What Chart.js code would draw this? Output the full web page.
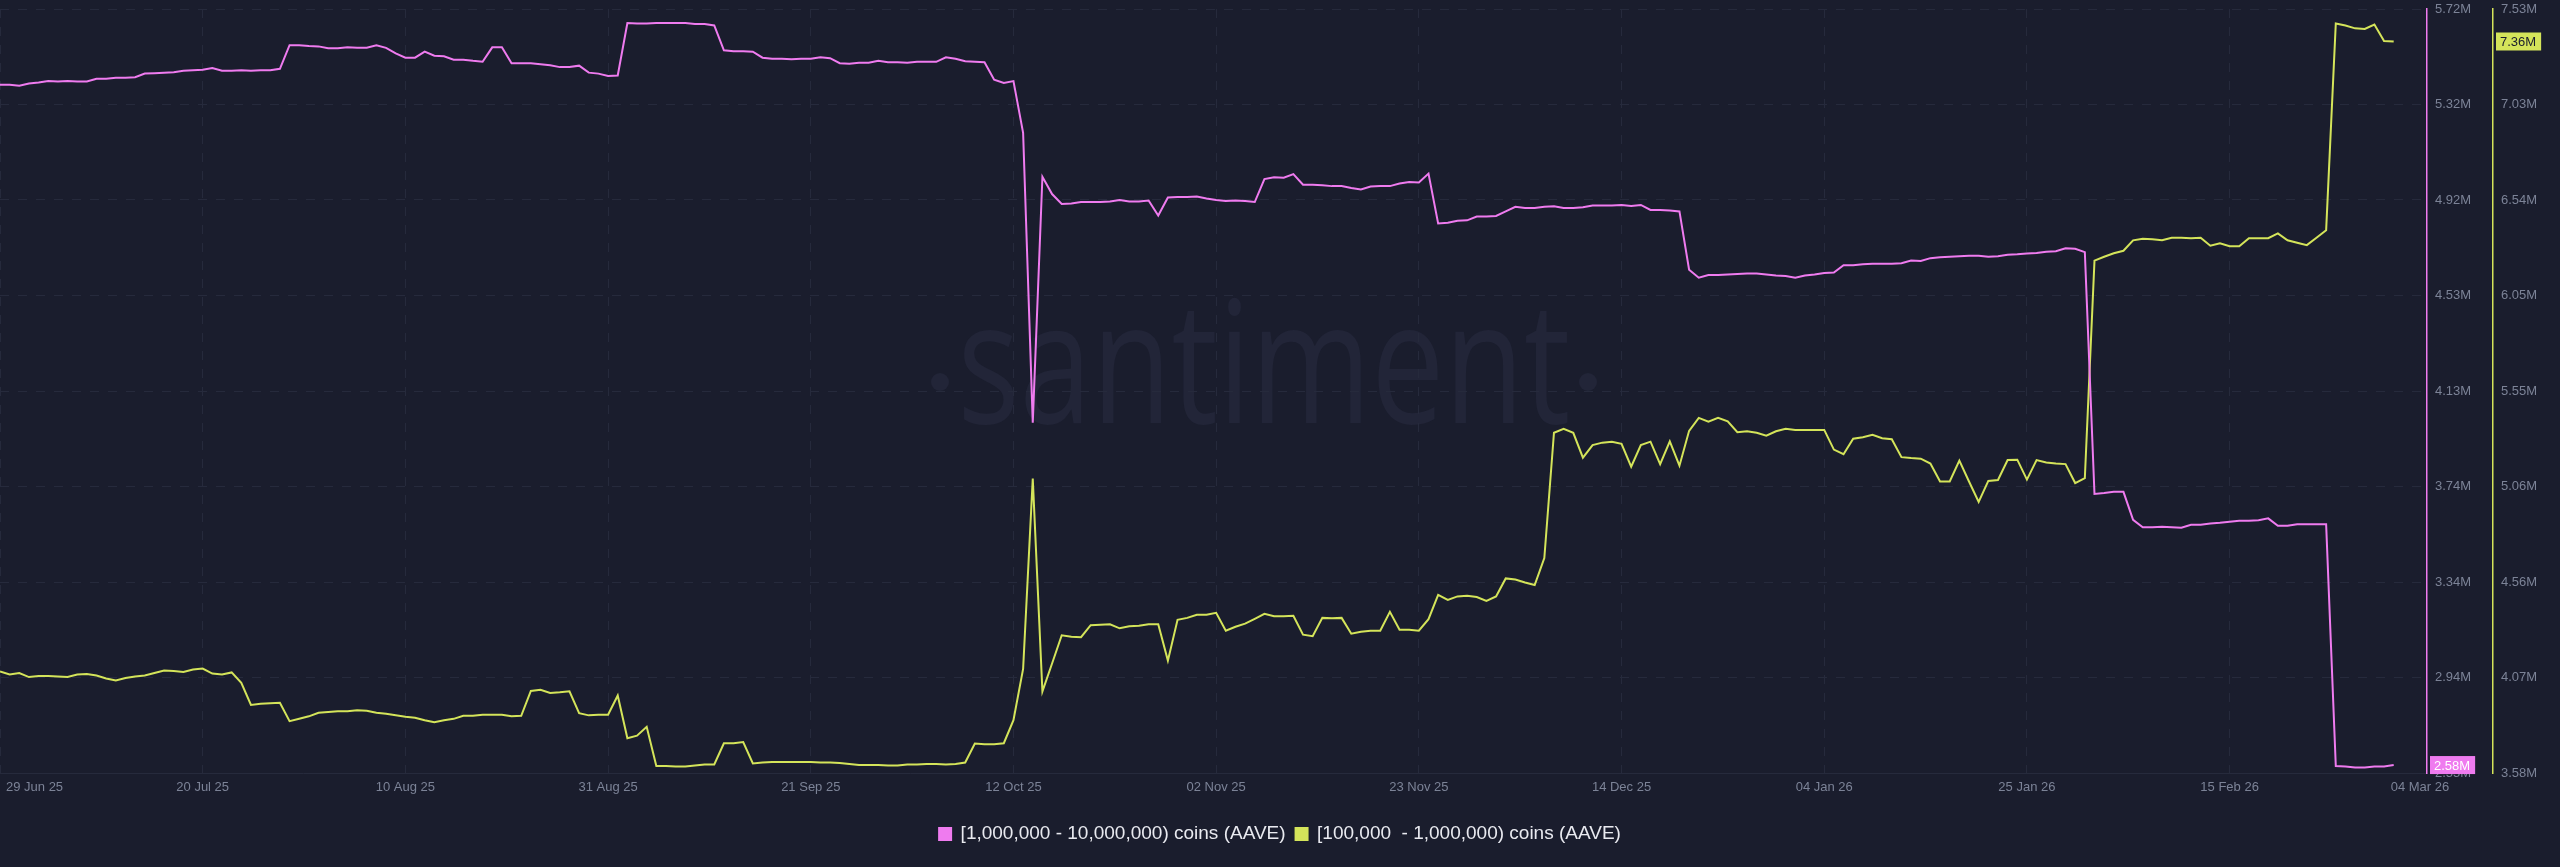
<!DOCTYPE html>
<html>
<head>
<meta charset="utf-8">
<title>AAVE supply distribution</title>
<script src="https://cdn.jsdelivr.net/npm/chart.js@4.4.1/dist/chart.umd.min.js"></script>
<style>
    html, body { margin: 0; padding: 0; background: #1a1d2d; }
    #wrap { width: 2560px; height: 867px; }
</style>
</head>
<body>
<div id="wrap"><canvas id="holdersChart"></canvas></div>
<script>
// x is days since 29 Jun 25, one point per day up to 04 Mar 26
const xTickDays = [0, 21, 42, 63, 84, 105, 126, 147, 168, 189, 210, 231, 248];
const xTickLabels = ["29 Jun 25", "20 Jul 25", "10 Aug 25", "31 Aug 25", "21 Sep 25", "12 Oct 25",
    "02 Nov 25", "23 Nov 25", "14 Dec 25", "04 Jan 26", "25 Jan 26", "15 Feb 26", "04 Mar 26"];

// right hand axes (millions)
const bigTickLabels = ["2.55M", "2.94M", "3.34M", "3.74M", "4.13M", "4.53M", "4.92M", "5.32M", "5.72M"];
const midTickLabels = ["3.58M", "4.07M", "4.56M", "5.06M", "5.55M", "6.05M", "6.54M", "7.03M", "7.53M"];
const bigRange = [2.551, 5.7222];
const midRange = [3.58, 7.53];

// [1,000,000 - 10,000,000) coins, millions of AAVE
const bigHolders = [
    5.408, 5.408, 5.404, 5.413, 5.417, 5.423, 5.421, 5.423, 5.421, 5.421,
    5.433, 5.433, 5.437, 5.437, 5.439, 5.454, 5.456, 5.458, 5.460, 5.466,
    5.468, 5.470, 5.477, 5.466, 5.466, 5.468, 5.466, 5.468, 5.468, 5.474,
    5.572, 5.572, 5.569, 5.567, 5.559, 5.559, 5.563, 5.561, 5.561, 5.572,
    5.561, 5.538, 5.520, 5.520, 5.545, 5.528, 5.526, 5.512, 5.512, 5.507,
    5.503, 5.563, 5.563, 5.497, 5.497, 5.497, 5.493, 5.489, 5.481, 5.481,
    5.487, 5.458, 5.454, 5.444, 5.446, 5.664, 5.662, 5.662, 5.664, 5.664,
    5.664, 5.664, 5.660, 5.660, 5.654, 5.551, 5.547, 5.547, 5.545, 5.520,
    5.516, 5.516, 5.514, 5.516, 5.516, 5.522, 5.518, 5.497, 5.495, 5.499,
    5.499, 5.507, 5.501, 5.501, 5.499, 5.503, 5.503, 5.503, 5.522, 5.516,
    5.505, 5.503, 5.501, 5.429, 5.415, 5.423, 5.208, 4.005, 5.026, 4.954,
    4.913, 4.915, 4.921, 4.921, 4.921, 4.923, 4.929, 4.923, 4.923, 4.927,
    4.865, 4.940, 4.942, 4.942, 4.944, 4.936, 4.929, 4.925, 4.927, 4.925,
    4.921, 5.016, 5.024, 5.022, 5.037, 4.993, 4.993, 4.991, 4.987, 4.987,
    4.979, 4.973, 4.985, 4.987, 4.987, 4.998, 5.004, 5.002, 5.039, 4.832,
    4.835, 4.843, 4.845, 4.861, 4.861, 4.863, 4.882, 4.901, 4.896, 4.896,
    4.901, 4.903, 4.896, 4.896, 4.899, 4.907, 4.907, 4.907, 4.909, 4.905,
    4.909, 4.888, 4.888, 4.886, 4.882, 4.640, 4.607, 4.618, 4.618, 4.620,
    4.622, 4.624, 4.624, 4.620, 4.616, 4.614, 4.607, 4.616, 4.620, 4.626,
    4.628, 4.659, 4.659, 4.663, 4.665, 4.665, 4.665, 4.667, 4.678, 4.676,
    4.688, 4.692, 4.694, 4.696, 4.698, 4.698, 4.694, 4.696, 4.702, 4.704,
    4.707, 4.709, 4.715, 4.717, 4.729, 4.727, 4.713, 3.709, 3.713, 3.718,
    3.718, 3.602, 3.571, 3.571, 3.573, 3.571, 3.569, 3.581, 3.581, 3.587,
    3.590, 3.594, 3.598, 3.598, 3.600, 3.608, 3.577, 3.577, 3.583, 3.583,
    3.583, 3.583, 2.580, 2.578, 2.574, 2.574, 2.578, 2.578, 2.584
];

// [100,000 - 1,000,000) coins, millions of AAVE
const midHolders = [
    4.105, 4.089, 4.097, 4.076, 4.082, 4.082, 4.079, 4.076, 4.089, 4.092,
    4.084, 4.069, 4.058, 4.071, 4.079, 4.084, 4.097, 4.110, 4.107, 4.102,
    4.115, 4.120, 4.094, 4.089, 4.100, 4.046, 3.932, 3.938, 3.940, 3.943,
    3.848, 3.860, 3.873, 3.891, 3.896, 3.899, 3.899, 3.904, 3.902, 3.891,
    3.886, 3.878, 3.871, 3.866, 3.853, 3.842, 3.853, 3.860, 3.876, 3.876,
    3.881, 3.881, 3.881, 3.873, 3.876, 4.004, 4.010, 3.994, 3.997, 4.002,
    3.889, 3.878, 3.881, 3.881, 3.981, 3.760, 3.773, 3.819, 3.616, 3.616,
    3.614, 3.614, 3.619, 3.624, 3.624, 3.734, 3.734, 3.740, 3.629, 3.634,
    3.637, 3.637, 3.637, 3.637, 3.637, 3.634, 3.634, 3.632, 3.626, 3.621,
    3.621, 3.621, 3.619, 3.619, 3.624, 3.624, 3.626, 3.626, 3.624, 3.626,
    3.634, 3.732, 3.729, 3.729, 3.734, 3.853, 4.118, 5.102, 4.002, 4.146,
    4.292, 4.285, 4.282, 4.344, 4.346, 4.349, 4.328, 4.339, 4.341, 4.349,
    4.349, 4.161, 4.372, 4.382, 4.398, 4.398, 4.408, 4.316, 4.336, 4.352,
    4.377, 4.403, 4.390, 4.390, 4.393, 4.295, 4.287, 4.382, 4.380, 4.382,
    4.300, 4.310, 4.316, 4.316, 4.413, 4.321, 4.321, 4.316, 4.375, 4.501,
    4.475, 4.493, 4.496, 4.490, 4.470, 4.493, 4.586, 4.580, 4.565, 4.552,
    4.691, 5.339, 5.360, 5.339, 5.210, 5.275, 5.288, 5.293, 5.282, 5.164,
    5.275, 5.293, 5.177, 5.295, 5.169, 5.349, 5.416, 5.396, 5.416, 5.398,
    5.342, 5.347, 5.339, 5.324, 5.347, 5.360, 5.354, 5.354, 5.354, 5.354,
    5.252, 5.228, 5.308, 5.316, 5.329, 5.311, 5.306, 5.213, 5.208, 5.205,
    5.180, 5.087, 5.087, 5.195, 5.087, 4.982, 5.090, 5.095, 5.198, 5.200,
    5.097, 5.198, 5.185, 5.180, 5.177, 5.079, 5.105, 6.229, 6.249, 6.267,
    6.280, 6.334, 6.342, 6.339, 6.334, 6.347, 6.347, 6.345, 6.347, 6.306,
    6.319, 6.303, 6.303, 6.345, 6.345, 6.345, 6.370, 6.334, 6.321, 6.309,
    6.347, 6.386, 7.455, 7.445, 7.430, 7.427, 7.450, 7.365, 7.362
];

const BG = "#1a1d2d";
const PINK = "#ef7bef";
const LIME = "#d4e45a";
const GRID = "#262a3c";
const TICK = "#7c8397";
const FONT = "'Liberation Sans', Arial, sans-serif";

Chart.defaults.font.family = FONT;

function evenTicks(range, labels) {
    const step = (range[1] - range[0]) / (labels.length - 1);
    return labels.map((_, i) => ({ value: range[0] + i * step }));
}

// keep the plot area where the reference has it, labels may overhang
function noPadding(s) {
    s.paddingTop = 0;
    s.paddingBottom = 0;
    s.paddingLeft = 0;
    s.paddingRight = 0;
}

const background = {
    id: "background",
    beforeDraw(chart) {
        const ctx = chart.ctx;
        ctx.save();
        ctx.fillStyle = BG;
        ctx.fillRect(0, 0, chart.width, chart.height);

        // watermark
        ctx.fillStyle = "#222538";
        ctx.font = "400 170px 'Open Sans'";
        ctx.textBaseline = "alphabetic";
        ctx.textAlign = "center";
        const word = "santiment";
        const w = ctx.measureText(word).width;
        ctx.translate(1264, 423);
        ctx.scale(613 / w, 1);
        ctx.fillText(word, 0, 0);
        ctx.setTransform(1, 0, 0, 1, 0, 0);
        [940, 1588].forEach(x => {
            ctx.beginPath();
            ctx.arc(x, 382, 9, 0, Math.PI * 2);
            ctx.fill();
        });
        ctx.restore();
    }
};

const xLabels = {
    id: "xLabels",
    afterDraw(chart) {
        const { ctx, chartArea } = chart;
        const x = chart.scales.x;
        ctx.save();
        ctx.font = "13px " + FONT;
        ctx.fillStyle = TICK;
        ctx.textBaseline = "middle";
        ctx.textAlign = "left";
        xTickDays.forEach((d, i) => {
            const text = xTickLabels[i];
            const w = ctx.measureText(text).width;
            const px = x.getPixelForValue(d);
            let left = px - w / 2;
            if (i === xTickDays.length - 1) left = px - 3;
            left = Math.max(6, left);
            ctx.fillText(text, left, chartArea.bottom + 14);
        });
        ctx.restore();
    }
};

const lastBadges = {
    id: "lastBadges",
    afterDraw(chart) {
        const ctx = chart.ctx;
        const items = [
            ["yBig", bigHolders, PINK, "#ffffff"],
            ["yMid", midHolders, LIME, BG]
        ];
        ctx.save();
        ctx.font = "13px " + FONT;
        ctx.textBaseline = "middle";
        ctx.textAlign = "left";
        items.forEach(([id, data, bg, fg]) => {
            const scale = chart.scales[id];
            const v = data[data.length - 1];
            const y = scale.getPixelForValue(v);
            const text = v.toFixed(2) + "M";
            const w = ctx.measureText(text).width + 9;
            ctx.fillStyle = bg;
            ctx.fillRect(scale.left + 3, y - 9, w, 18);
            ctx.fillStyle = fg;
            ctx.fillText(text, scale.left + 7, y + 1);
        });
        ctx.restore();
    }
};

document.addEventListener("DOMContentLoaded", function () {
    new Chart(document.getElementById("holdersChart"), {
        type: "line",
        data: {
            datasets: [
                {
                    label: "[1,000,000 - 10,000,000) coins (AAVE)",
                    data: bigHolders.map((v, i) => ({ x: i, y: v })),
                    yAxisID: "yBig",
                    borderColor: PINK,
                    backgroundColor: PINK,
                    borderWidth: 2,
                    pointRadius: 0,
                    tension: 0
                },
                {
                    label: "[100,000  - 1,000,000) coins (AAVE)",
                    data: midHolders.map((v, i) => ({ x: i, y: v })),
                    yAxisID: "yMid",
                    borderColor: LIME,
                    backgroundColor: LIME,
                    borderWidth: 2,
                    pointRadius: 0,
                    tension: 0
                }
            ]
        },
        options: {
            responsive: true,
            maintainAspectRatio: false,
            devicePixelRatio: 1,
            animation: false,
            layout: { padding: { top: 9, left: 0, right: 0, bottom: 13.5 } },
            plugins: {
                legend: {
                    position: "bottom",
                    labels: {
                        color: "#e9eaf0",
                        font: { size: 19 },
                        boxWidth: 12,
                        boxHeight: 12,
                        padding: 10
                    }
                },
                tooltip: { enabled: false }
            },
            scales: {
                x: {
                    type: "linear",
                    min: 0,
                    max: 251.45,
                    bounds: "data",
                    afterBuildTicks: s => { s.ticks = xTickDays.map(d => ({ value: d })); },
                    afterFit: s => { s.height = 41.5; noPadding(s); },
                    ticks: { display: false },
                    grid: {
                        color: c => (c.tick && c.tick.value === 248) ? "rgba(0,0,0,0)" : GRID,
                        drawTicks: false
                    },
                    border: { display: true, color: GRID, dash: [9, 9] }
                },
                yBig: {
                    type: "linear",
                    position: "right",
                    weight: 0,
                    min: bigRange[0],
                    max: bigRange[1],
                    bounds: "data",
                    afterBuildTicks: s => { s.ticks = evenTicks(bigRange, bigTickLabels); },
                    afterFit: s => { s.width = 66; noPadding(s); },
                    ticks: {
                        color: TICK,
                        font: { size: 13 },
                        padding: 8,
                        callback: (v, i) => bigTickLabels[i]
                    },
                    grid: { color: GRID, drawTicks: false },
                    border: { color: PINK, width: 1.5, dash: [9, 9] }
                },
                yMid: {
                    type: "linear",
                    position: "right",
                    weight: 1,
                    min: midRange[0],
                    max: midRange[1],
                    bounds: "data",
                    afterBuildTicks: s => { s.ticks = evenTicks(midRange, midTickLabels); },
                    afterFit: s => { s.width = 67; noPadding(s); },
                    ticks: {
                        color: TICK,
                        font: { size: 13 },
                        padding: 8,
                        callback: (v, i) => midTickLabels[i]
                    },
                    grid: { display: false, drawTicks: false },
                    border: { color: LIME, width: 1.5 }
                }
            }
        },
        plugins: [background, xLabels, lastBadges]
    });
});
</script>
</body>
</html>
